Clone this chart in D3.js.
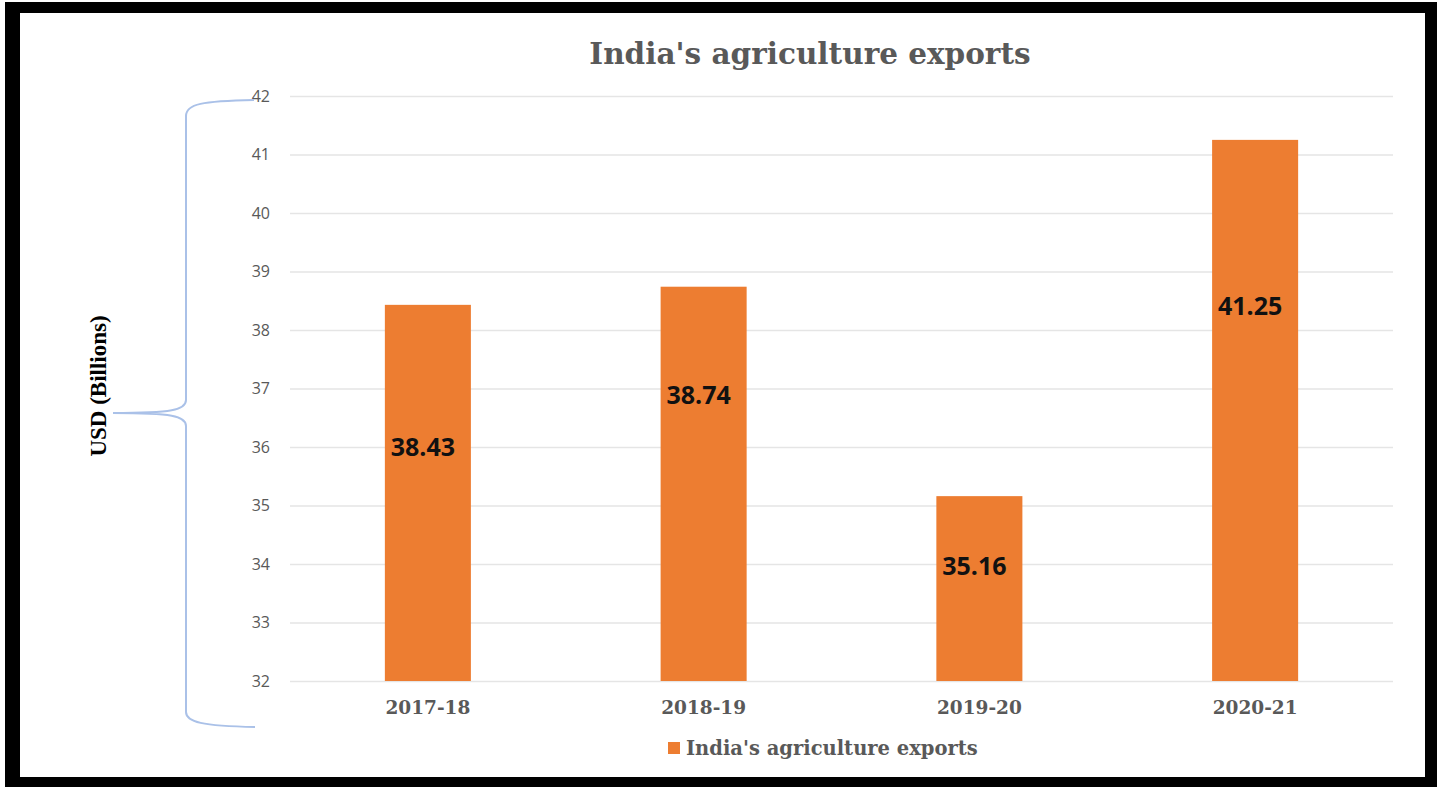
<html>
<head>
    <meta charset="utf-8">
    <title>India's agriculture exports</title>
    <script src="https://d3js.org/d3.v7.min.js" charset="utf-8"></script>
    <style>
        body { margin: 0; background: #fff; }
    </style>
</head>
<body>
    <div id="chart"></div>
    <script>
        // data
        const years = ["2017-18", "2018-19", "2019-20", "2020-21"];
        const exportsUsd = [38.43, 38.74, 35.16, 41.25];
        const yTicks = [32, 33, 34, 35, 36, 37, 38, 39, 40, 41, 42];
        // where each data label sits (in axis units)
        const labelAt = [36.0, 36.89, 33.97, 38.41];

        const seriesName = "India's agriculture exports";
        const orange = "#ed7d31",
            grey = "#595959";

        const width = 1447, height = 787;

        let svg = d3.select("#chart")
            .append("svg")
            .attr("width", width)
            .attr("height", height);

        // black picture frame
        svg.append("rect")
            .attr("x", 5).attr("y", 2)
            .attr("width", 1432).attr("height", 790)
            .style("fill", "#000");
        svg.append("rect")
            .attr("x", 20).attr("y", 13)
            .attr("width", 1405).attr("height", 764)
            .style("fill", "#fff");

        const x = d3.scaleBand()
            .domain(years)
            .range([290, 1393])
            .padding(0);

        const y = d3.scaleLinear()
            .domain([32, 42])
            .range([681, 96]);

        const barW = x.bandwidth() * 0.312;

        // gridlines + tick labels
        let yAxis = svg.append("g")
            .attr("transform", "translate(290,0)")
            .call(d3.axisLeft(y).tickValues(yTicks).tickSize(-1103).tickPadding(20).tickFormat(d3.format("d")));
        yAxis.select(".domain").remove();
        yAxis.selectAll(".tick line")
            .style("stroke", "#e5e5e5")
            .style("stroke-width", 1.5);
        yAxis.selectAll(".tick text")
            .style("font-family", "'Open Sans', sans-serif")
            .style("font-size", "16px")
            .style("fill", grey);

        // bars
        svg.selectAll(".bar")
            .data(exportsUsd)
            .enter()
            .append("rect")
            .attr("class", "bar")
            .attr("x", (d, i) => x(years[i]) + x.bandwidth() / 2 - barW / 2)
            .attr("y", d => y(d))
            .attr("width", barW)
            .attr("height", d => y(32) - y(d))
            .style("fill", orange);

        // value labels
        svg.selectAll(".val")
            .data(exportsUsd)
            .enter()
            .append("text")
            .attr("class", "val")
            .attr("x", (d, i) => x(years[i]) + x.bandwidth() / 2 - 5)
            .attr("y", (d, i) => y(labelAt[i]))
            .attr("dy", "0.36em")
            .attr("text-anchor", "middle")
            .style("font-family", "'Open Sans', sans-serif")
            .style("font-weight", "bold")
            .style("font-size", "25px")
            .style("fill", "#111")
            .text(d => d.toFixed(2));

        // category labels
        svg.selectAll(".cat")
            .data(years)
            .enter()
            .append("text")
            .attr("class", "cat")
            .attr("x", d => x(d) + x.bandwidth() / 2)
            .attr("y", 714)
            .attr("text-anchor", "middle")
            .style("font-family", "'DejaVu Serif', serif")
            .style("font-weight", "bold")
            .style("font-size", "18.5px")
            .style("fill", grey)
            .text(d => d);

        // title
        svg.append("text")
            .attr("x", 810)
            .attr("y", 64)
            .attr("text-anchor", "middle")
            .style("font-family", "'DejaVu Serif', serif")
            .style("font-weight", "bold")
            .style("font-size", "29.5px")
            .style("fill", grey)
            .text(seriesName);

        // legend
        svg.append("rect")
            .attr("x", 668).attr("y", 742)
            .attr("width", 12).attr("height", 12)
            .style("fill", orange);
        svg.append("text")
            .attr("x", 686)
            .attr("y", 755)
            .style("font-family", "'DejaVu Serif', serif")
            .style("font-weight", "bold")
            .style("font-size", "19.5px")
            .style("fill", grey)
            .text(seriesName);

        // curly brace next to the axis
        svg.append("path")
            .attr("d", "M254,100 C202,101 186,104 186,116 L186,400 C186,410 172,413 113,413 " +
                "C172,413 186,416 186,426 L186,712 C186,722 202,726 255,727")
            .style("fill", "none")
            .style("stroke", "#aac1e8")
            .style("stroke-width", 2);

        // axis title
        svg.append("text")
            .attr("transform", "translate(106,386) rotate(-90)")
            .attr("text-anchor", "middle")
            .style("font-family", "'Liberation Serif', serif")
            .style("font-weight", "bold")
            .style("font-size", "23px")
            .style("fill", "#000")
            .text("USD (Billions)");
    </script>
</body>
</html>
